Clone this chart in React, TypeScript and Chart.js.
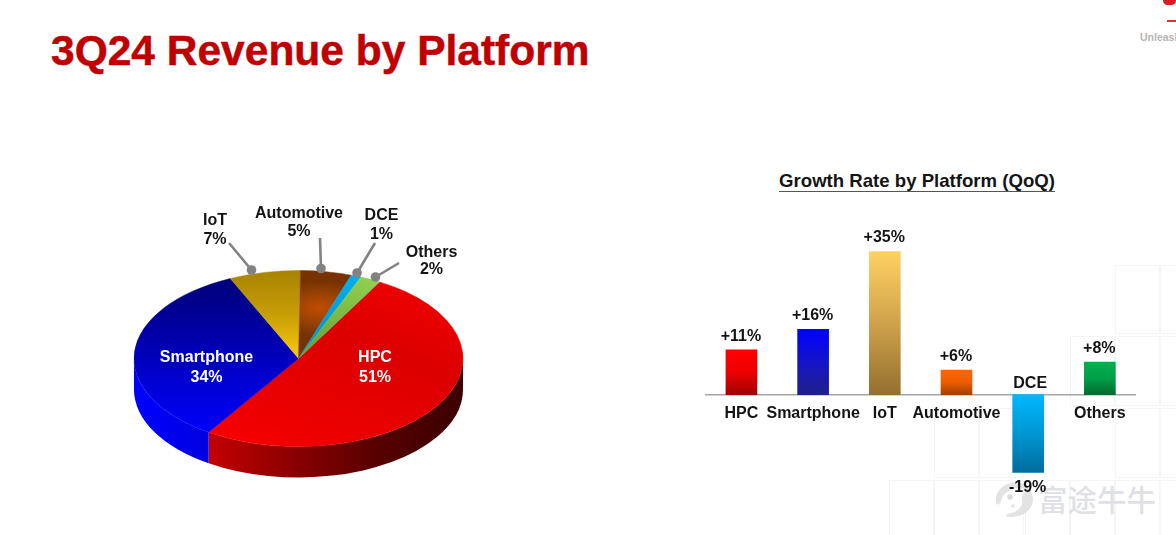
import React, { useEffect, useRef } from "react";
import { Chart, registerables } from "chart.js";

Chart.register(...registerables);

const FONT = '"Liberation Sans", Arial, sans-serif';

const pieCategories = ["HPC", "Smartphone", "IoT", "Automotive", "DCE", "Others"];
const pieShares = [51, 34, 7, 5, 1, 2];

const barCategories = ["HPC", "Smartphone", "IoT", "Automotive", "DCE", "Others"];
const barGrowth = [11, 16, 35, 6, -19, 8];

const barGradients = [
  ["#ff0000", "#ee0000", "#a00000"],
  ["#0000ff", "#1414c8", "#20208a"],
  ["#ffd263", "#cfa24c", "#94702e"],
  ["#ff6600", "#ee5c00", "#a04000"],
  ["#00b8ff", "#0097d2", "#006c9c"],
  ["#00b050", "#00a048", "#006a30"],
];

// Placement of the pie's callouts, in page pixels
const pieCallouts = [
  { i: 2, text: [215, 220.5], sep: 19, from: [229, 243], dot: [251.5, 270] },
  { i: 3, text: [299, 213.5], sep: 18, from: [320, 238], dot: [321, 268.5] },
  { i: 4, text: [381.5, 215.5], sep: 19, from: [375, 243], dot: [357, 273] },
  { i: 5, text: [431.5, 252.5], sep: 17.5, from: [399, 263], dot: [375.5, 277] },
];
const pieInside = [
  { i: 0, text: [375, 358] },
  { i: 1, text: [206.5, 358] },
];

const PIE_LEFT = 100;
const PIE_TOP = 130;
const PIE_W = 400;
const PIE_H = 400;
const CX = 198.5;
const CY = 228.5;
const RX = 164.5;
const SQUASH = 0.535;
const DEPTH = 31;

const tiles = [
  [1115, 265, 45, 69], [1160, 265, 30, 69],
  [1070, 336, 45, 70], [1115, 336, 45, 70], [1160, 336, 30, 70],
  [934, 408, 45, 70], [979, 408, 45, 70], [1115, 408, 45, 70], [1160, 408, 30, 70],
  [889, 480, 45, 70], [934, 480, 45, 70], [979, 480, 45, 70], [1025, 480, 45, 70], [1070, 480, 45, 70], [1115, 480, 45, 70], [1160, 480, 30, 70],
];

function PieChart() {
  const ref = useRef<HTMLCanvasElement>(null);
  useEffect(() => {
    const canvas = ref.current!;
    const g = canvas.getContext("2d")!;
    const sy = (y: number) => CY + (y - PIE_TOP - CY) / SQUASH;
    const sx = (x: number) => x - PIE_LEFT;
    const lin = (x0: number, y0: number, x1: number, y1: number, stops: string[]) => {
      const gr = g.createLinearGradient(sx(x0), sy(y0), sx(x1), sy(y1));
      stops.forEach((s, k) => gr.addColorStop(k / (stops.length - 1), s));
      return gr;
    };
    const autoGrad = g.createRadialGradient(sx(320), sy(308), 2, sx(320), sy(308), 50);
    autoGrad.addColorStop(0, "#bf4c02");
    autoGrad.addColorStop(0.6, "#934004");
    autoGrad.addColorStop(1, "#783200");
    const fills = [
      lin(230, 450, 430, 290, ["#f70000", "#e80000", "#dc0000", "#ee0000"]),
      lin(200, 282, 200, 440, ["#00007c", "#0000a8", "#0000d8", "#0000ff"]),
      lin(270, 272, 270, 358, ["#a98400", "#c89e06", "#fcc80e"]),
      autoGrad,
      lin(340, 275, 300, 358, ["#00aeef", "#0090c8"]),
      lin(375, 280, 300, 358, ["#92d050", "#5f9e36"]),
    ];
    const wallFills = [
      lin(208, 440, 463, 440, ["#c40000", "#8c0000", "#560000", "#3c0000"]),
      lin(134, 440, 208, 440, ["#0000ff", "#0000e0"]),
      "#b08a00", "#743000", "#0090c8", "#70a840",
    ];

    const pie3d = {
      id: "pie3d",
      beforeDatasetsDraw(chart: any) {
        const c = chart.ctx;
        const arcs = chart.getDatasetMeta(0).data;
        const ry = RX * SQUASH;
        arcs.forEach((arc: any, i: number) => {
          for (const k of [0, Math.PI * 2, -Math.PI * 2]) {
            const a0 = Math.max(arc.startAngle + k, 0);
            const a1 = Math.min(arc.endAngle + k, Math.PI);
            if (a1 <= a0) continue;
            c.beginPath();
            c.ellipse(CX, CY, RX, ry, 0, a0, a1);
            c.ellipse(CX, CY + DEPTH, RX, ry, 0, a1, a0, true);
            c.closePath();
            c.fillStyle = wallFills[i];
            c.fill();
          }
        });
        c.save();
        c.translate(0, CY);
        c.scale(1, SQUASH);
        c.translate(0, -CY);
      },
      afterDatasetsDraw(chart: any) {
        chart.ctx.restore();
      },
      afterDraw(chart: any) {
        const c = chart.ctx;
        const data = chart.data;
        const px = (x: number) => x - PIE_LEFT;
        const py = (y: number) => y - PIE_TOP;
        c.save();
        c.font = `bold 16px ${FONT}`;
        c.textAlign = "center";
        c.textBaseline = "middle";
        pieCallouts.forEach((o) => {
          c.strokeStyle = "#828282";
          c.lineWidth = 2.6;
          c.beginPath();
          c.moveTo(px(o.from[0]), py(o.from[1]));
          c.lineTo(px(o.dot[0]), py(o.dot[1]));
          c.stroke();
          c.fillStyle = "#828282";
          c.beginPath();
          c.arc(px(o.dot[0]), py(o.dot[1]), 4.8, 0, Math.PI * 2);
          c.fill();
          c.fillStyle = "#141414";
          c.fillText(data.labels[o.i], px(o.text[0]), py(o.text[1]));
          c.fillText(`${data.datasets[0].data[o.i]}%`, px(o.text[0]), py(o.text[1] + o.sep));
        });
        c.fillStyle = "#ffffff";
        pieInside.forEach((o) => {
          c.fillText(data.labels[o.i], px(o.text[0]), py(o.text[1]));
          c.fillText(`${data.datasets[0].data[o.i]}%`, px(o.text[0]), py(o.text[1] + 20));
        });
        c.restore();
      },
    };

    const chart = new Chart(canvas, {
      type: "pie",
      plugins: [pie3d],
      data: {
        labels: pieCategories,
        datasets: [{ data: pieShares, backgroundColor: fills, borderColor: fills, borderWidth: 0.6 }],
      },
      options: {
        animation: false,
        responsive: false,
        rotation: 29.5,
        radius: RX,
        layout: { padding: { top: 57, right: 3, left: 0, bottom: 0 } },
        plugins: { legend: { display: false }, tooltip: { enabled: false }, title: { display: false } },
      },
    } as any);
    return () => chart.destroy();
  }, []);
  return <canvas ref={ref} width={PIE_W} height={PIE_H} style={{ position: "absolute", left: PIE_LEFT, top: PIE_TOP, width: PIE_W, height: PIE_H }} />;
}

function BarChart() {
  const ref = useRef<HTMLCanvasElement>(null);
  useEffect(() => {
    const canvas = ref.current!;
    const valueLabels = {
      id: "valueLabels",
      afterDatasetsDraw(chart: any) {
        const c = chart.ctx;
        const arr = chart.getDatasetMeta(0).data;
        c.save();
        c.font = `bold 16px ${FONT}`;
        c.fillStyle = "#141414";
        c.textAlign = "center";
        c.textBaseline = "middle";
        arr.forEach((b: any, i: number) => {
          const v = barGrowth[i];
          const text = v > 0 ? `+${v}%` : `${v}%`;
          c.fillText(text, b.x - 0.5, v > 0 ? b.y - 13.5 : b.y + 15.5);
        });
        // the DCE category sits above the axis, since its bar goes below it
        const dce = barGrowth.findIndex((v) => v < 0);
        c.fillText(barCategories[dce], arr[dce].x + 2, chart.scales.y.getPixelForValue(0) - 11);
        c.restore();
      },
    };
    const chart = new Chart(canvas, {
      type: "bar",
      plugins: [valueLabels],
      data: {
        labels: barCategories,
        datasets: [
          {
            data: barGrowth,
            barThickness: 31,
            borderWidth: 0,
            backgroundColor: (ctx: any) => {
              const s = ctx.chart.scales.y;
              if (!s || typeof ctx.raw !== "number") return "#888";
              const a = s.getPixelForValue(Math.max(ctx.raw, 0));
              const b = s.getPixelForValue(Math.min(ctx.raw, 0));
              if (!Number.isFinite(a) || !Number.isFinite(b)) return "#888";
              const gr = ctx.chart.ctx.createLinearGradient(0, a, 0, b);
              const st = barGradients[ctx.dataIndex];
              gr.addColorStop(0, st[0]);
              gr.addColorStop(0.5, st[1]);
              gr.addColorStop(1, st[2]);
              return gr;
            },
          },
        ],
      },
      options: {
        animation: false,
        responsive: false,
        layout: { padding: { left: 15.6, right: 40.3, top: 31.1, bottom: 17.6 } },
        plugins: { legend: { display: false }, tooltip: { enabled: false }, title: { display: false } },
        scales: {
          y: { display: false, min: -30, max: 40 },
          x: {
            position: { y: 0 },
            grid: { display: false, drawTicks: false },
            border: { display: true, color: "#a6a6a6", width: 1.5 },
            ticks: {
              maxRotation: 0,
              autoSkip: false,
              color: "#141414",
              padding: 9.5,
              font: { family: FONT, weight: "bold", size: 16 },
              callback: (_: any, i: number) => (barGrowth[i] < 0 ? "" : barCategories[i]),
            },
          },
        },
      },
    } as any);
    return () => chart.destroy();
  }, []);
  return <canvas ref={ref} width={486} height={335} style={{ position: "absolute", left: 690, top: 200, width: 486, height: 335 }} />;
}

export default function App() {
  return (
    <div style={{ position: "fixed", left: 0, top: 0, width: 1176, height: 535, overflow: "hidden", background: "#ffffff", fontFamily: FONT }}>
      {tiles.map((t, i) => (
        <div key={i} style={{ position: "absolute", left: t[0], top: t[1], width: t[2], height: t[3], boxSizing: "border-box", border: "1px solid #f5f5f5" }} />
      ))}
      <svg width={42} height={42} style={{ position: "absolute", left: 994, top: 479 }}>
        <path d="M2 24 C0 10 14 1 26 4 C32 5 36 9 37 13 C30 8 22 8 17 11 C11 13 8 18 7 22 C6 25 3 27 2 24 Z" fill="#e3e3e3" />
        <path d="M37 13 C43 24 35 38 16 38 C12 38 11 36 14 35 C24 33 30 27 28 20 C27 16 32 12 37 13 Z" fill="#e3e3e3" />
        <circle cx={16} cy={18} r={2.8} fill="#dadada" />
        <circle cx={19} cy={27} r={1.8} fill="#e3e3e3" />
      </svg>
      <div style={{ position: "absolute", left: 1038, top: 478, fontFamily: '"Noto Sans CJK SC"', fontSize: 29.5, fontWeight: 500, lineHeight: "40px", color: "#dfe1e4", whiteSpace: "nowrap" }}>富途牛牛</div>

      <div style={{ position: "absolute", left: 51, top: 27, fontSize: 42.5, lineHeight: "48px", fontWeight: "bold", color: "#c00000", whiteSpace: "nowrap", WebkitTextStroke: "0.5px #c00000" }}>3Q24 Revenue by Platform</div>
      <div style={{ position: "absolute", left: 1140, top: 31, fontSize: 10.5, lineHeight: "13px", fontWeight: "bold", color: "#b5b5b5", whiteSpace: "nowrap" }}>Unleash</div>
      <div style={{ position: "absolute", left: 1167, top: 20, width: 9, height: 2, background: "#e3302f" }} />
      <div style={{ position: "absolute", left: 1163, top: -4, width: 13, height: 9, borderRadius: 5, background: "#d81e22" }} />

      <PieChart />
      <BarChart />
      <div style={{ position: "absolute", left: 779, top: 171, width: 276, fontSize: 18.6, lineHeight: "19.5px", fontWeight: "bold", color: "#141414", whiteSpace: "nowrap", textAlign: "center", borderBottom: "1px solid #555" }}>Growth Rate by Platform (QoQ)</div>
    </div>
  );
}
